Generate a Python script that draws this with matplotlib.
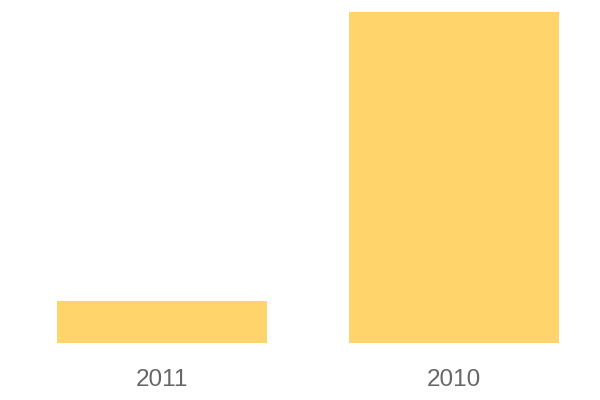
import matplotlib.pyplot as plt

years = ['2011', '2010']
values = [12.7, 100.0]

fig = plt.figure(figsize=(6, 4), dpi=100)
# axes placed in pixels: left 57, right 559, baseline 343, top 12
ax = fig.add_axes([57 / 600, 57 / 400, 502 / 600, 331 / 400])

ax.bar(range(len(years)), values, width=0.72, color='#FFD56B')

ax.set_xlim(-0.36, 1.36)
ax.set_ylim(0, max(values))
ax.set_xticks(range(len(years)))
ax.set_xticklabels(years, fontsize=17.5, color='#666666', family=['Liberation Sans', 'DejaVu Sans'])
ax.tick_params(axis='x', length=0, pad=19)
ax.set_yticks([])
for s in ax.spines.values():
    s.set_visible(False)

fig.savefig('out.png', dpi=100)
